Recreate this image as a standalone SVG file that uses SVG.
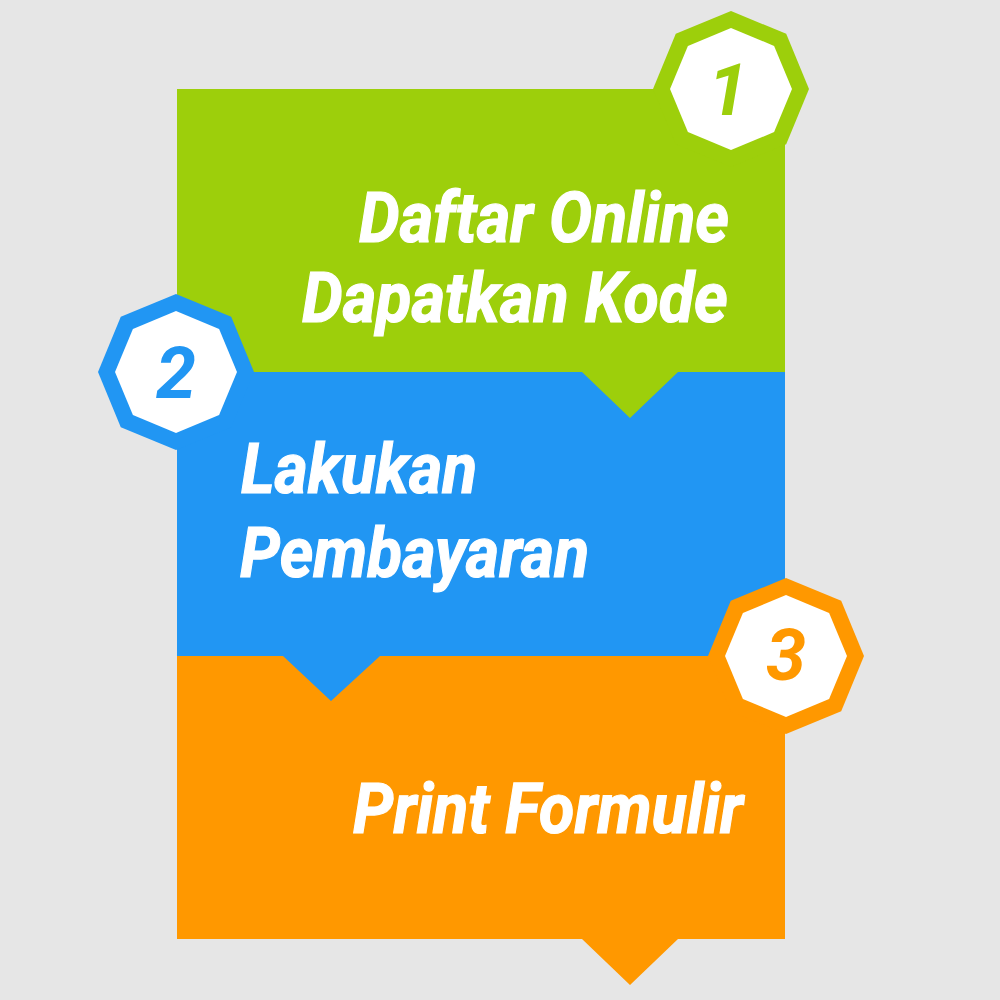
<svg xmlns="http://www.w3.org/2000/svg" xmlns:xlink="http://www.w3.org/1999/xlink" width="1000" height="1000" viewBox="0 0 1000 1000">
<style>
.lbl{font-family:Roboto,"Liberation Sans",sans-serif;font-weight:700;font-style:italic;font-size:71px;fill:#ffffff;stroke:#ffffff;stroke-width:1.2px;}
.num{font-family:Roboto,"Liberation Sans",sans-serif;font-weight:700;font-style:italic;font-size:72px;text-anchor:middle;}
.inner{fill:#ffffff;}
</style>
<defs>
<polygon id="oct-out" points="0,-78 55.2,-55.2 78,0 55.2,55.2 0,78 -55.2,55.2 -78,0 -55.2,-55.2"/>
<polygon id="oct-in" points="0,-61 43.1,-43.1 61,0 43.1,43.1 0,61 -43.1,43.1 -61,0 -43.1,-43.1"/>
</defs>
<rect x="0" y="0" width="1000" height="1000" fill="#e6e6e6"/>
<g id="step3">
<path d="M177,656 H785 V939 H678 L630,985 L582,939 H177 Z" fill="#ff9800"/>
<text class="lbl" x="353" y="833" textLength="390" lengthAdjust="spacingAndGlyphs">Print Formulir</text>
</g>
<g id="step2">
<path d="M177,372 H785 V656 H380 L331,701 L283,656 H177 Z" fill="#2196f3"/>
<text class="lbl" x="241" y="493" textLength="236" lengthAdjust="spacingAndGlyphs">Lakukan</text>
<text class="lbl" x="240" y="577" textLength="349" lengthAdjust="spacingAndGlyphs">Pembayaran</text>
</g>
<g id="step1">
<path d="M177,89 H785 V372 H678 L630,418 L582,372 H177 Z" fill="#9dcf0b"/>
<text class="lbl" x="359" y="242" textLength="370" lengthAdjust="spacingAndGlyphs">Daftar Online</text>
<text class="lbl" x="302" y="322" textLength="426" lengthAdjust="spacingAndGlyphs">Dapatkan Kode</text>
</g>
<g id="badge1" transform="translate(731,89)">
<use xlink:href="#oct-out" href="#oct-out" fill="#9dcf0b"/>
<use xlink:href="#oct-in" href="#oct-in" class="inner"/>
<text class="num" x="-3" y="26" fill="#9dcf0b">1</text>
</g>
<g id="badge2" transform="translate(176,372)">
<use xlink:href="#oct-out" href="#oct-out" fill="#2196f3"/>
<use xlink:href="#oct-in" href="#oct-in" class="inner"/>
<text class="num" x="0" y="26" fill="#2196f3">2</text>
</g>
<g id="badge3" transform="translate(786,656)">
<use xlink:href="#oct-out" href="#oct-out" fill="#ff9800"/>
<use xlink:href="#oct-in" href="#oct-in" class="inner"/>
<text class="num" x="0" y="24" fill="#ff9800">3</text>
</g>
<g id="connectors"></g>
</svg>
